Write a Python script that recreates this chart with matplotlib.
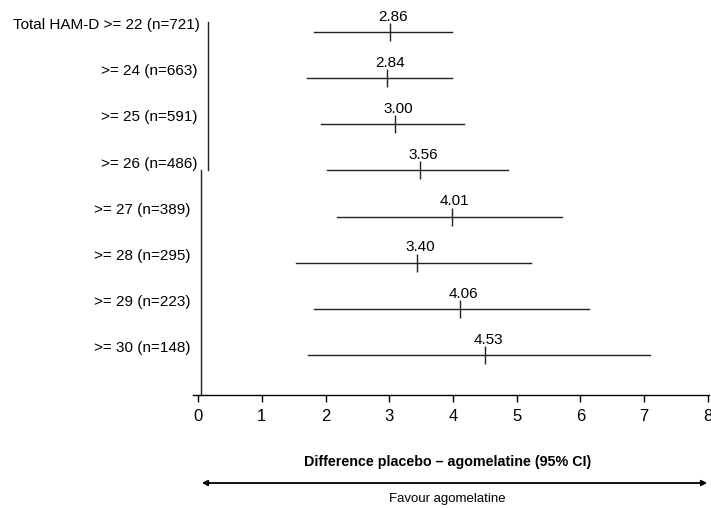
import numpy as np
import matplotlib
matplotlib.use('Agg')
import matplotlib.pyplot as plt

#-----------------------------------------
# data
#-----------------------------------------
groups = ['Total HAM-D >= 22 (n=721)', '>= 24 (n=663)', '>= 25 (n=591)', '>= 26 (n=486)',
          '>= 27 (n=389)', '>= 28 (n=295)', '>= 29 (n=223)', '>= 30 (n=148)']
diff_labels = ['2.86', '2.84', '3.00', '3.56', '4.01', '3.40', '4.06', '4.53']
diff_marks = [3.01, 2.96, 3.09, 3.48, 3.98, 3.43, 4.11, 4.50]
ci_low = [1.82, 1.71, 1.93, 2.02, 2.18, 1.54, 1.82, 1.72]
ci_high = [3.98, 3.98, 4.17, 4.87, 5.72, 5.22, 6.13, 7.10]
xticks = [0, 1, 2, 3, 4, 5, 6, 7, 8]

plt.rcParams['font.family'] = ['Liberation Sans', 'DejaVu Sans']

fig = plt.figure(figsize=(7.11, 5.08), dpi=100)
W, H = 711.0, 508.0
# axes from x px 193 to 709, y px 10 to 395
ax = fig.add_axes([193 / W, 1 - 395 / H, (709 - 193) / W, (395 - 10) / H])

ypos = np.arange(len(groups))
for i in range(len(groups)):
    ax.plot([ci_low[i], ci_high[i]], [ypos[i], ypos[i]], color='#222222', lw=1)
    ax.plot(diff_marks[i], ypos[i], marker='|', ms=13, mew=1, color='#222222')
    ax.text(diff_marks[i] + 0.05, ypos[i] - 0.33, diff_labels[i], ha='center', va='center', fontsize=11)

ax.set_xlim(-0.08, 8.02)
ax.set_ylim(7.87, -0.48)

for s in ['top', 'right', 'left']:
    ax.spines[s].set_visible(False)
ax.spines['bottom'].set_linewidth(1)
ax.set_xticks(xticks)
ax.set_xticklabels([str(t) for t in xticks], fontsize=12)
ax.tick_params(axis='x', direction='out', length=5, width=1, pad=5)
ax.set_yticks([])

# the split vertical axis line of the original
ax.plot([(208 - 198) / 63.8] * 2, [(22 - 32) / 46.1, (170 - 32) / 46.1], color='#222222', lw=1, clip_on=False)
ax.plot([(201 - 198) / 63.8] * 2, [(170 - 32) / 46.1, 7.87], color='#222222', lw=1, clip_on=False)

# row labels: upper block sits right of the lower block in the original
for i, g in enumerate(groups):
    if i == 0:
        xl = 0.03
    elif i < 4:
        xl = -0.01
    else:
        xl = -0.12
    ax.text(xl, ypos[i] - 0.15, g, ha='right', va='center', fontsize=11)

fig.text(448 / W, 1 - 462 / H, 'Difference placebo \u2013 agomelatine (95% CI)',
         ha='center', va='center', fontsize=10.3, fontweight='bold')
fig.text(447 / W, 1 - 499 / H, 'Favour agomelatine', ha='center', va='center', fontsize=9.5)
fig.patches.append(matplotlib.patches.FancyArrowPatch((199 / W, 1 - 483 / H), (710 / W, 1 - 483 / H),
                   transform=fig.transFigure, arrowstyle='<|-|>', mutation_scale=8, lw=1.3, color='black'))

plt.savefig('out.png', dpi=100)
